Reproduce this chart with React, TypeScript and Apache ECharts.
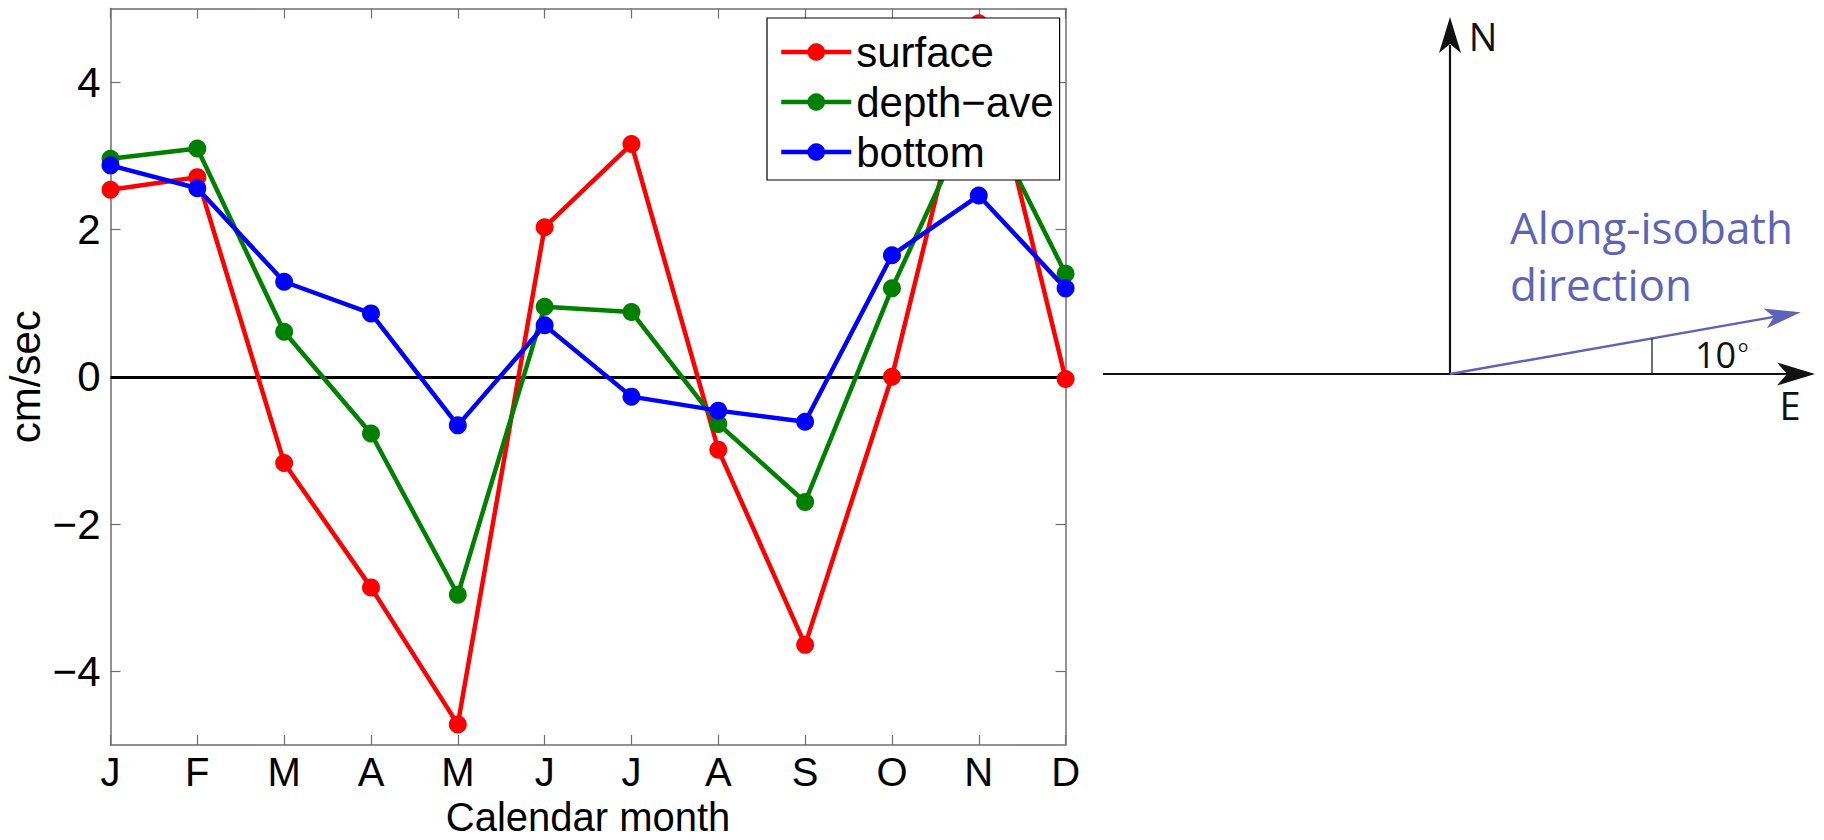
import React, { useEffect, useRef } from 'react';
import * as echarts from 'echarts';

// ---- data ----
const monthKeys = ['Jan', 'Feb', 'Mar', 'Apr', 'May', 'Jun', 'Jul', 'Aug', 'Sep', 'Oct', 'Nov', 'Dec'];
const monthLabels = ['J', 'F', 'M', 'A', 'M', 'J', 'J', 'A', 'S', 'O', 'N', 'D'];
const yTickValues = [-4, -2, 0, 2, 4];
const yMin = -5;
const yMax = 5;

const surface = [2.54, 2.71, -1.17, -2.86, -4.72, 2.03, 3.16, -0.99, -3.64, 0.0, 4.8, -0.03];
const depthAve = [2.96, 3.1, 0.61, -0.77, -2.96, 0.95, 0.88, -0.64, -1.7, 1.2, 3.75, 1.4];
const bottom = [2.87, 2.56, 1.29, 0.86, -0.66, 0.7, -0.27, -0.46, -0.61, 1.65, 2.46, 1.2];

const seriesNames = ['surface', 'depth\u2212ave', 'bottom'];
const seriesColors = ['#ff0000', '#008000', '#0000ff'];

const xAxisTitle = 'Calendar month';
const yAxisTitle = 'cm/sec';

const diagramTexts = {
  north: 'N',
  east: 'E',
  along1: 'Along-isobath',
  along2: 'direction',
  angle: '10',
  degree: 'o',
};
const alongAngleDeg = 10;

const FONT = '"Liberation Sans", Arial, Helvetica, sans-serif';
const FONT2 = '"Open Sans", "Noto Sans", sans-serif';
const AXIS_GRAY = '#6e6e6e';
const BLUE2 = '#5d63b8';

function arrowHead(tx: number, ty: number, dx: number, dy: number, len: number, half: number, notch: number) {
  const nx = -dy;
  const ny = dx;
  const bx = tx - dx * len;
  const by = ty - dy * len;
  const mx = tx - dx * notch;
  const my = ty - dy * notch;
  return [
    [tx, ty],
    [bx + nx * half, by + ny * half],
    [mx, my],
    [bx - nx * half, by - ny * half],
  ];
}

export default function App() {
  const ref = useRef<HTMLDivElement>(null);

  useEffect(() => {
    if (!ref.current) return;
    const chart = echarts.init(ref.current, null, { renderer: 'svg' });

    const ox = 1450;
    const oy = 374;
    const a = (alongAngleDeg * Math.PI) / 180;
    const dX = Math.cos(a);
    const dY = -Math.sin(a);
    const blueLen = 356;
    const btx = ox + dX * blueLen;
    const bty = oy + dY * blueLen;
    const blueHead = arrowHead(btx, bty, dX, dY, 36, 10, 27);
    const eHead = arrowHead(1815, oy, 1, 0, 38, 11.5, 28);
    const nHead = arrowHead(ox, 17, 0, -1, 36, 11, 27);
    const tickX = 1652;
    const tickY = oy - (tickX - ox) * Math.tan(a);

    const lineSeries = [surface, depthAve, bottom].map((d, i) => ({
      name: seriesNames[i],
      type: 'line',
      xAxisIndex: 0,
      yAxisIndex: 0,
      data: d,
      symbol: 'circle',
      symbolSize: 18,
      showSymbol: true,
      lineStyle: { color: seriesColors[i], width: 4.5 },
      itemStyle: { color: seriesColors[i] },
      z: 3 + i,
      clip: false,
    }));

    const option: any = {
      animation: false,
      backgroundColor: '#ffffff',
      textStyle: { fontFamily: FONT },
      grid: {
        left: 110.5,
        right: 758.4,
        top: 8.5,
        bottom: 95,
        containLabel: false,
        outerBoundsMode: 'none',
      },
      legend: {
        data: seriesNames,
        orient: 'vertical',
        left: 767,
        top: 18,
        itemWidth: 70,
        itemHeight: 22,
        itemGap: 8,
        padding: [13, 6, 7, 12],
        backgroundColor: '#ffffff',
        borderColor: '#000000',
        borderWidth: 1.2,
        borderRadius: 0,
        lineStyle: { width: 4.5 },
        textStyle: { fontFamily: FONT, fontSize: 42, color: '#000', lineHeight: 42 },
        z: 20,
      },
      xAxis: [
        {
          type: 'category',
          data: monthKeys,
          boundaryGap: false,
          position: 'bottom',
          name: xAxisTitle,
          nameLocation: 'middle',
          nameGap: 52,
          nameMoveOverlap: false,
          nameTextStyle: { fontFamily: FONT, fontSize: 40, lineHeight: 40, color: '#000' },
          axisLine: { show: true, onZero: false, lineStyle: { color: AXIS_GRAY, width: 1.5 } },
          axisTick: { show: true, inside: true, length: 10, alignWithLabel: true, lineStyle: { color: AXIS_GRAY, width: 1.2 } },
          axisLabel: {
            show: true,
            margin: 7,
            fontFamily: FONT,
            fontSize: 40,
            lineHeight: 40,
            color: '#000',
            interval: 0,
            formatter: (_v: string, idx: number) => monthLabels[idx],
          },
          splitLine: { show: false },
        },
        {
          type: 'category',
          data: monthKeys,
          boundaryGap: false,
          position: 'top',
          axisLine: { show: true, onZero: false, lineStyle: { color: AXIS_GRAY, width: 1.5 } },
          axisTick: { show: true, inside: true, length: 10, interval: 0, lineStyle: { color: AXIS_GRAY, width: 1.2 } },
          axisLabel: { show: false },
          splitLine: { show: false },
        },
      ],
      yAxis: [
        {
          type: 'value',
          min: yMin,
          max: yMax,
          position: 'left',
          name: yAxisTitle,
          nameLocation: 'middle',
          nameGap: 64,
          nameMoveOverlap: false,
          nameRotate: 90,
          nameTextStyle: { fontFamily: FONT, fontSize: 42, color: '#000' },
          axisLine: { show: true, onZero: false, lineStyle: { color: AXIS_GRAY, width: 1.5 } },
          axisTick: { show: true, inside: true, length: 10, customValues: yTickValues, lineStyle: { color: AXIS_GRAY, width: 1.2 } },
          axisLabel: {
            show: true,
            margin: 10,
            fontFamily: FONT,
            fontSize: 42,
            color: '#000',
            customValues: yTickValues,
            formatter: (v: number) => String(v).replace('-', '\u2212'),
          },
          splitLine: { show: false },
        },
        {
          type: 'value',
          min: yMin,
          max: yMax,
          position: 'right',
          axisLine: { show: true, onZero: false, lineStyle: { color: AXIS_GRAY, width: 1.5 } },
          axisTick: { show: true, inside: true, length: 10, customValues: yTickValues, lineStyle: { color: AXIS_GRAY, width: 1.2 } },
          axisLabel: { show: false, customValues: yTickValues },
          splitLine: { show: false },
        },
      ],
      series: [
        {
          name: 'zero',
          type: 'line',
          xAxisIndex: 0,
          yAxisIndex: 0,
          data: monthKeys.map(() => null),
          symbol: 'none',
          z: 1,
          silent: true,
          markLine: {
            silent: true,
            symbol: 'none',
            label: { show: false },
            lineStyle: { color: '#000000', width: 3, type: 'solid' },
            data: [{ yAxis: 0 }],
            z: 1,
          },
        },
        ...lineSeries,
      ],
      graphic: [
        { type: 'line', shape: { x1: 1103, y1: oy, x2: 1790, y2: oy }, style: { stroke: '#111', lineWidth: 2.2 } },
        { type: 'polygon', shape: { points: eHead }, style: { fill: '#111' } },
        { type: 'line', shape: { x1: ox, y1: oy, x2: ox, y2: 45 }, style: { stroke: '#111', lineWidth: 2.2 } },
        { type: 'polygon', shape: { points: nHead }, style: { fill: '#111' } },
        { type: 'line', shape: { x1: ox, y1: oy, x2: btx - dX * 27, y2: bty - dY * 27 }, style: { stroke: BLUE2, lineWidth: 2.5 } },
        { type: 'polygon', shape: { points: blueHead }, style: { fill: BLUE2 } },
        { type: 'line', shape: { x1: tickX, y1: tickY, x2: tickX, y2: oy }, style: { stroke: '#222', lineWidth: 1.3 } },
        { type: 'text', x: 1483, y: 36, style: { text: diagramTexts.north, fontFamily: FONT2, fontSize: 38, fill: '#111', align: 'center', verticalAlign: 'middle' } },
        { type: 'text', x: 1790, y: 405, style: { text: diagramTexts.east, fontFamily: FONT2, fontSize: 38, fill: '#111', align: 'center', verticalAlign: 'middle' } },
        { type: 'text', x: 1510, y: 227, style: { text: diagramTexts.along1, fontFamily: FONT2, fontSize: 44, fill: BLUE2, align: 'left', verticalAlign: 'middle' } },
        { type: 'text', x: 1510, y: 284, style: { text: diagramTexts.along2, fontFamily: FONT2, fontSize: 44, fill: BLUE2, align: 'left', verticalAlign: 'middle' } },
        { type: 'text', x: 1695, y: 354, style: { text: diagramTexts.angle, fontFamily: FONT2, fontSize: 36, fill: '#111', align: 'left', verticalAlign: 'middle' } },
        { type: 'text', x: 1738, y: 345, style: { text: diagramTexts.degree, fontFamily: FONT2, fontSize: 17, fill: '#111', align: 'left', verticalAlign: 'middle' } },
      ],
    };

    chart.setOption(option);
    return () => {
      chart.dispose();
    };
  }, []);

  return (
    <div
      ref={ref}
      style={{ position: 'absolute', left: 0, top: 0, width: 1824, height: 840, background: '#ffffff' }}
    />
  );
}
